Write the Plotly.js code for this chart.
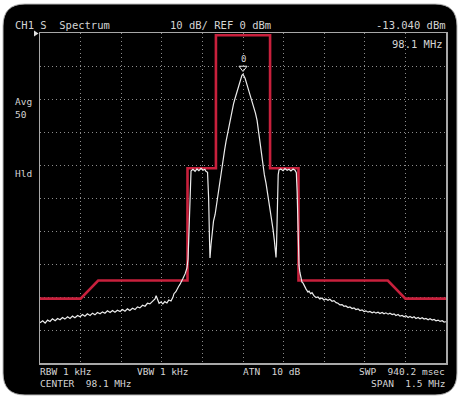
<!DOCTYPE html>
<html><head><meta charset="utf-8">
<script src="https://cdn.plot.ly/plotly-3.0.1.min.js"></script>
<style>html,body{margin:0;padding:0;background:#fff;}#plot{width:461px;height:398px;}</style>
</head><body><div id="plot"></div>
<script>
// Frequency offset from center (kHz), level (dBm)
const traceF = [-750,-740,-731,-722,-713,-704,-694,-685,-676,-667,-658,-648,-639,-630,-621,-611,-602,-593,-584,-575,-565,-556,-547,-538,-528,-519,-510,-501,-491,-482,-473,-464,-454,-445,-436,-427,-418,-408,-399,-390,-381,-371,-362,-353,-344,-333,-325,-321,-316,-310,-303,-296,-289,-281,-274,-266,-259,-255,-248,-244,-238,-233,-226,-222,-214,-207,-203,-200,-196,-192,-185,-177,-170,-163,-155,-148,-141,-137,-131,-127,-124,-122,-118,-114,-109,-103,-98,-92,-85,-79,-74,-68,-63,-57,-52,-46,-41,-35,-30,-24,-18,-13,-8,-4,0,4,8,13,18,24,30,35,41,46,52,57,63,68,74,79,85,91,96,100,105,111,116,120,122,124,127,130,133,140,148,155,163,170,177,185,192,197,200,203,207,210,214,218,222,228,233,240,244,250,255,262,270,277,284,292,299,306,314,321,329,336,344,351,358,366,373,380,388,395,403,410,417,425,432,440,447,454,462,469,477,484,491,499,506,514,521,528,536,543,551,558,565,573,580,588,595,602,610,617,625,632,639,647,654,662,669,676,684,691,699,706,713,721,728,736,743,750];
const traceDb = [-87.8,-87.2,-87.9,-87.0,-87.4,-86.6,-87.2,-86.5,-86.9,-86.2,-86.7,-86.0,-86.5,-85.8,-86.3,-85.6,-86.0,-85.3,-85.8,-85.1,-85.6,-84.9,-85.4,-84.7,-85.1,-84.5,-84.9,-84.2,-84.7,-84.1,-84.6,-84.0,-84.4,-83.8,-84.3,-83.6,-84.1,-83.4,-83.8,-83.0,-83.3,-82.5,-82.8,-81.9,-82.1,-81.2,-80.6,-79.6,-80.8,-81.9,-81.5,-82.1,-81.4,-81.8,-80.9,-81.2,-80.1,-79.0,-78.4,-77.6,-76.8,-76.2,-75.2,-74.4,-73.0,-71.2,-68.5,-60,-46,-41.8,-41.3,-41.9,-41.2,-41.7,-41.0,-41.6,-41.3,-41.9,-42.2,-50,-62,-68.2,-64,-60,-57,-55,-52,-49,-45,-41.5,-38.5,-35.5,-33,-30.5,-28,-25.5,-23.5,-21.5,-20,-18.3,-16.5,-15,-13.8,-12.8,-12.5,-13.0,-13.8,-15.2,-16.6,-18.3,-19.9,-21.3,-22.6,-24.3,-26.5,-29.5,-33.5,-37.5,-40.8,-43,-45.5,-48.5,-51,-53.5,-56.5,-59.5,-63,-66,-68.0,-64,-52,-43,-41.5,-41.2,-41.7,-41.1,-41.6,-41.3,-41.8,-41.2,-41.6,-42.3,-48,-60,-70.5,-72.5,-74.3,-75.5,-75.8,-77.0,-77.6,-78.5,-78.2,-79.0,-78.7,-79.6,-80.2,-80.0,-80.6,-80.3,-80.9,-80.6,-81.0,-80.7,-81.3,-81.1,-81.7,-81.9,-82.4,-82.3,-82.8,-82.7,-83.2,-83.0,-83.5,-83.3,-83.8,-83.6,-84.1,-83.9,-84.4,-84.2,-84.6,-84.4,-84.8,-84.5,-84.9,-84.6,-85.0,-84.7,-85.1,-84.8,-85.2,-84.9,-85.3,-85.1,-85.6,-85.3,-85.8,-85.6,-86.0,-85.7,-86.2,-85.9,-86.3,-86.0,-86.5,-86.2,-86.6,-86.3,-86.7,-86.5,-86.9,-86.6,-87.0,-86.8,-87.2,-87.0,-87.4,-87.2,-87.6,-87.5];

// Limit mask
const maskF = [-750,-600,-535,-205,-205,-100,-100,100,100,205,205,535,600,750];
const maskDb = [-80.5,-80.5,-75,-75,-41,-41,-0.7,-0.7,-41,-41,-75,-75,-80.5,-80.5];

// Marker
const markerF = [0];
const markerDb = [-10.6];
const markerLabel = ['0'];

// Screen texts
const headerLeft = 'CH1 S  Spectrum';
const headerMid = '10 dB/ REF 0 dBm';
const headerRight = '-13.040 dBm';
const markerFreq = '98.1 MHz';
const sideTexts = ['Avg', '50', 'Hld'];
const footTexts = ['RBW 1 kHz', 'VBW 1 kHz', 'ATN  10 dB', 'SWP  940.2 msec', 'CENTER  98.1 MHz', 'SPAN  1.5 MHz'];

const px = x => (x - 40) / 406;
const py = y => (363 - y) / 330;

function ann(text, x, y, xa, size) {
  return {text: text, x: px(x), y: py(y), xref: 'paper', yref: 'paper', xanchor: xa, yanchor: 'middle', showarrow: false,
    font: {family: 'DejaVu Sans Mono, monospace', size: size || 10.5, color: '#d4d4d4'}, borderpad: 0};
}

const frame = 'M ' + px(25) + ',' + py(4) + ' L ' + px(435) + ',' + py(4) +
  ' Q ' + px(457) + ',' + py(4) + ' ' + px(457) + ',' + py(26) +
  ' L ' + px(457) + ',' + py(373) + ' Q ' + px(457) + ',' + py(395) + ' ' + px(435) + ',' + py(395) +
  ' L ' + px(25) + ',' + py(395) + ' Q ' + px(3) + ',' + py(395) + ' ' + px(3) + ',' + py(373) +
  ' L ' + px(3) + ',' + py(26) + ' Q ' + px(3) + ',' + py(4) + ' ' + px(25) + ',' + py(4) + ' Z';
const tri = 'M ' + px(34) + ',' + py(30.5) + ' L ' + px(38.5) + ',' + py(33.5) + ' L ' + px(34) + ',' + py(36.5) + ' Z';

const data = [
  {x: maskF, y: maskDb, mode: 'lines', line: {color: '#c8203c', width: 2.6}, hoverinfo: 'skip', cliponaxis: false},
  {x: traceF, y: traceDb, mode: 'lines', line: {color: '#ececec', width: 1.2}, hoverinfo: 'skip'},
  {x: markerF, y: markerDb, mode: 'markers', marker: {symbol: 'triangle-down-open', size: 7, color: '#ececec', line: {width: 1, color: '#ececec'}}, hoverinfo: 'skip'}
];

const axisCommon = {showticklabels: false, ticks: '', zeroline: false, showline: true, mirror: true, linecolor: '#a8a8a8', linewidth: 1.5, gridcolor: '#8c8c8c', griddash: '1px,3px', gridwidth: 1, fixedrange: true};

const layout = {
  width: 461, height: 398,
  margin: {l: 40, r: 15, t: 33, b: 35},
  paper_bgcolor: '#ffffff', plot_bgcolor: '#000000',
  showlegend: false,
  xaxis: Object.assign({range: [-750, 750], tick0: -750, dtick: 150}, axisCommon),
  yaxis: Object.assign({range: [-100, 0], tick0: -100, dtick: 10}, axisCommon),
  shapes: [
    {type: 'path', path: frame, xref: 'paper', yref: 'paper', fillcolor: '#000000', line: {color: '#b8b8b8', width: 1}, layer: 'below'},
    {type: 'path', path: tri, xref: 'paper', yref: 'paper', fillcolor: '#e0e0e0', line: {width: 0}, layer: 'above'}
  ],
  annotations: [
    ann(headerLeft, 14, 25, 'left'),
    ann(headerMid, 169, 25, 'left'),
    ann(headerRight, 447, 25, 'right'),
    ann(markerFreq, 444, 44, 'right'),
    ann(sideTexts[0], 14, 101.5, 'left', 9.5),
    ann(sideTexts[1], 14, 114, 'left', 9.5),
    ann(sideTexts[2], 14, 173.5, 'left', 9.5),
    ann(footTexts[0], 39, 371.5, 'left', 9.5),
    ann(footTexts[1], 136, 371.5, 'left', 9.5),
    ann(footTexts[2], 242, 371.5, 'left', 9.5),
    ann(footTexts[3], 446, 371.5, 'right', 9.5),
    ann(footTexts[4], 39, 383.5, 'left', 9.5),
    ann(footTexts[5], 446, 383.5, 'right', 9.5),
    {text: markerLabel[0], x: markerF[0], y: markerDb[0], xref: 'x', yref: 'y', yanchor: 'bottom', yshift: 2, showarrow: false, font: {family: 'DejaVu Sans Mono, monospace', size: 9, color: '#d4d4d4'}}
  ]
};

Plotly.newPlot('plot', data, layout, {staticPlot: true, displayModeBar: false});
</script>
</body></html>
